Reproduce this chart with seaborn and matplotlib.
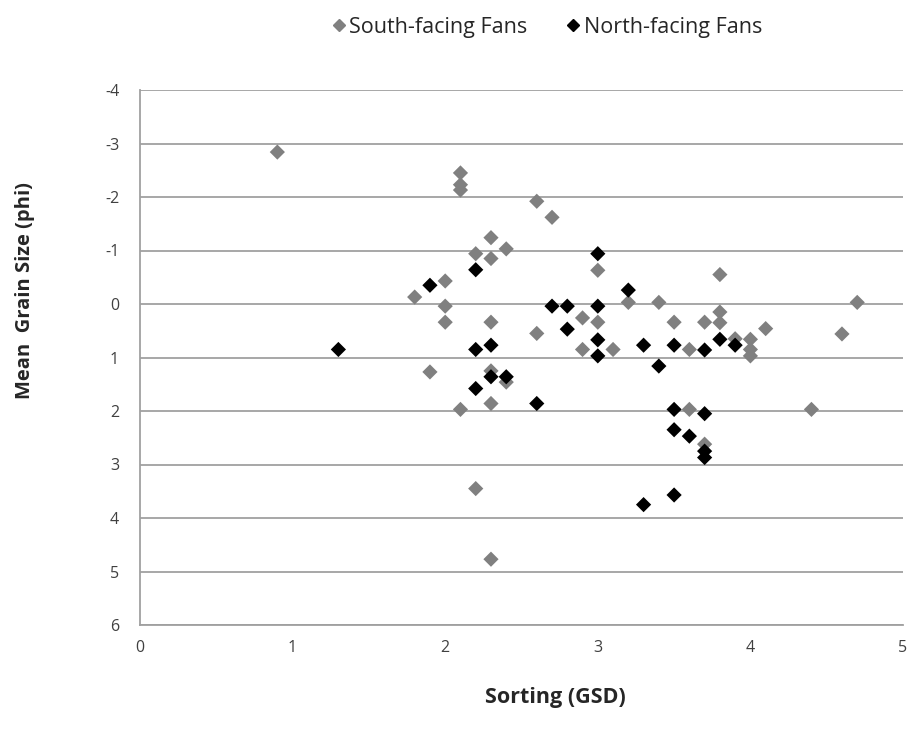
import matplotlib
matplotlib.use("Agg")
import matplotlib.pyplot as plt
import seaborn as sns
import pandas as pd

south_x = [0.9, 2.1, 2.1, 2.1, 2.6, 2.7, 2.3, 2.4, 2.2, 2.3, 3.0, 3.8, 2.0, 1.8, 2.0,
           3.2, 3.4, 4.7, 2.0, 2.3, 2.9, 3.0, 3.5, 3.7, 3.8, 3.8, 4.1, 4.6, 2.6, 2.9,
           3.1, 3.6, 3.9, 4.0, 4.0, 4.0, 1.9, 2.3, 2.4, 2.1, 2.3, 2.2, 2.3, 3.6, 4.4, 3.7]
south_y = [-2.84, -2.45, -2.23, -2.13, -1.92, -1.62, -1.24, -1.03, -0.94, -0.85, -0.63,
           -0.55, -0.43, -0.13, 0.04, -0.03, -0.03, -0.03, 0.34, 0.34, 0.26, 0.34, 0.34,
           0.34, 0.15, 0.35, 0.46, 0.56, 0.55, 0.85, 0.85, 0.85, 0.65, 0.66, 0.85, 0.97,
           1.27, 1.25, 1.46, 1.97, 1.86, 3.45, 4.77, 1.97, 1.97, 2.62]

north_x = [1.3, 1.9, 2.2, 2.2, 2.3, 2.2, 2.3, 2.4, 2.6, 2.7, 2.8, 2.8, 3.0, 3.0, 3.0,
           3.0, 3.2, 3.3, 3.3, 3.4, 3.5, 3.5, 3.5, 3.5, 3.6, 3.7, 3.7, 3.7, 3.7, 3.8, 3.9]
north_y = [0.85, -0.35, -0.64, 0.85, 0.77, 1.58, 1.36, 1.36, 1.86, 0.04, 0.04, 0.47,
           -0.94, 0.04, 0.67, 0.97, -0.26, 0.77, 3.75, 1.16, 0.77, 1.97, 2.35, 3.57,
           2.47, 0.86, 2.05, 2.75, 2.87, 0.66, 0.77]

series_names = ["South-facing Fans", "North-facing Fans"]
y_ticks = [-4, -3, -2, -1, 0, 1, 2, 3, 4, 5, 6]
x_ticks = [0, 1, 2, 3, 4, 5]

df = pd.concat([
    pd.DataFrame({"x": south_x, "y": south_y, "series": series_names[0]}),
    pd.DataFrame({"x": north_x, "y": north_y, "series": series_names[1]}),
], ignore_index=True)

sns.set_style("white")
plt.rcParams["font.family"] = ["Open Sans", "DejaVu Sans"]

fig = plt.figure(figsize=(9.07, 7.40), dpi=100)
ax = fig.add_axes([140 / 907, 1 - 625 / 740, 763 / 907, 535 / 740])

palette = {series_names[0]: "#808080", series_names[1]: "#000000"}
sns.scatterplot(data=df, x="x", y="y", hue="series", palette=palette,
                marker="D", s=60, edgecolor="none", linewidth=0, ax=ax,
                legend=False, zorder=3)

ax.set_xlim(0, 5)
ax.set_ylim(6, -4)
ax.set_xticks(x_ticks)
ax.set_yticks(y_ticks)
ax.set_xticklabels([str(v) for v in x_ticks])
ax.set_yticklabels([str(v) for v in y_ticks])
ax.yaxis.grid(True, color="#a0a0a0", linewidth=1.3)
ax.xaxis.grid(False)
for side in ["top", "right"]:
    ax.spines[side].set_visible(False)
for side in ["left", "bottom"]:
    ax.spines[side].set_color("#a0a0a0")
    ax.spines[side].set_linewidth(1.3)
ax.tick_params(axis="both", which="both", direction="out", length=5, width=1.3,
               color="#a0a0a0", labelsize=11.5, labelcolor="#404040")
ax.tick_params(axis="y", pad=10)
ax.tick_params(axis="x", pad=6)
ax.set_xlabel("")
ax.set_ylabel("")

fig.text(555 / 907, 1 - 697 / 740, "Sorting (GSD)", fontsize=15.5, fontweight="bold",
         ha="center", va="center")
fig.text(25 / 907, 1 - 291 / 740, "Mean  Grain Size (phi)", fontsize=14.5,
         fontweight="bold", rotation=90, ha="center", va="center")

handles = [
    plt.Line2D([], [], marker="D", linestyle="none", color="#808080", markersize=6.5),
    plt.Line2D([], [], marker="D", linestyle="none", color="#000000", markersize=6.5),
]
fig.legend(handles, series_names, loc="center", bbox_to_anchor=(545 / 907, 1 - 27 / 740),
           ncol=2, frameon=False, fontsize=15.5, handletextpad=0.0, columnspacing=1.6,
           handlelength=1.0)

fig.savefig("out.png", dpi=100)
